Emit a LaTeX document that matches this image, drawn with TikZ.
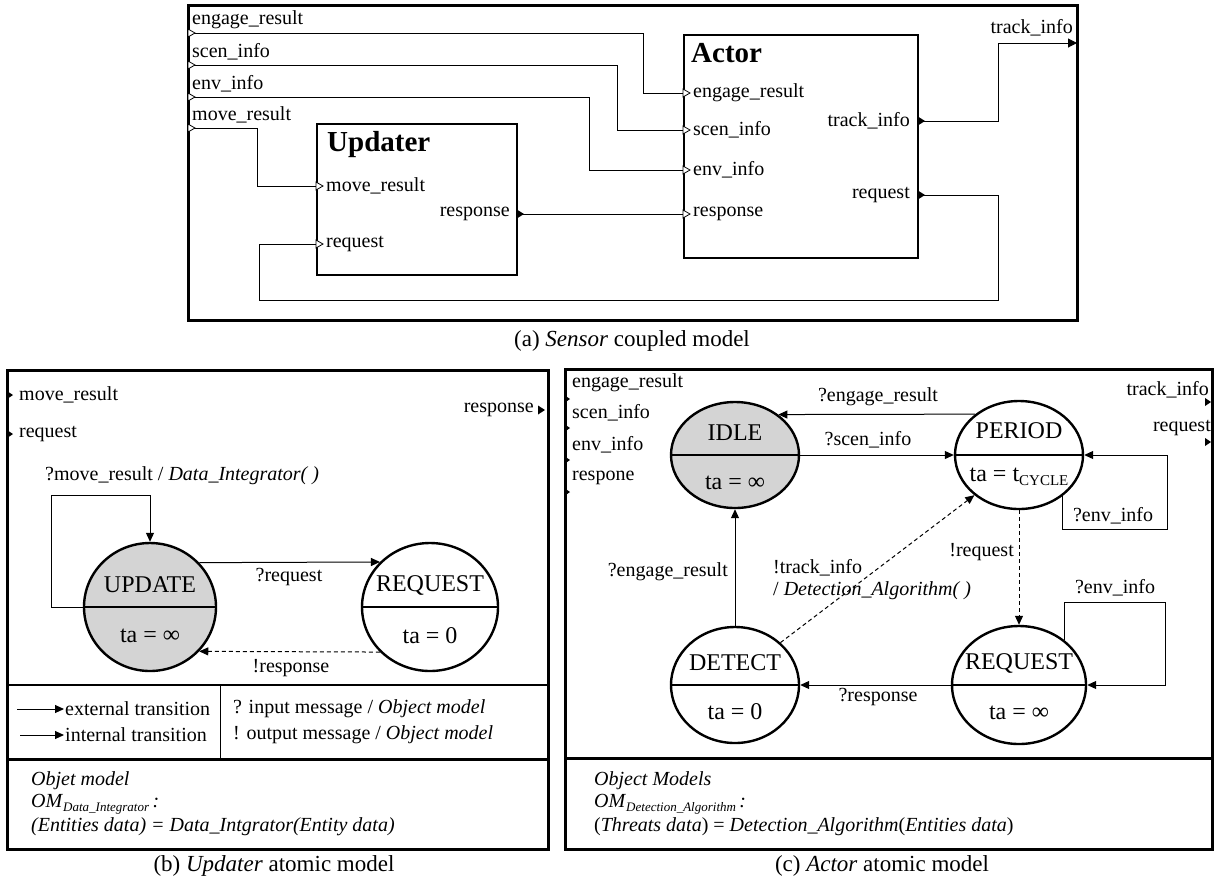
\documentclass[tikz,border=0pt]{standalone}
\usepackage{fontspec}
\setmainfont{Liberation Serif}
\usepackage{tikz}
\usetikzlibrary{shapes.geometric}
\usetikzlibrary{arrows.meta}

\newcommand{\inport}[1]{\draw[line width=0.8pt,fill=white] (#1) ++(0,-4) -- ++(7,4) -- ++(-7,4) -- cycle;}
\newcommand{\outport}[2][8]{\fill (#2) ++(0,-#1/2-1) -- ++(#1,#1/2+1) -- ++(-#1,#1/2+1) -- cycle;}

\begin{document}
\begin{tikzpicture}[x=1pt,y=-1pt,
  every node/.style={font=\fontsize{20}{22}\selectfont,inner sep=1pt},
  panel/.style={draw,line width=3pt},
  block/.style={draw,line width=2pt,anchor=north west},
  wire/.style={line width=1pt},
  exttrans/.style={line width=1pt,-{Triangle[length=9pt,width=8pt]}},
  inttrans/.style={exttrans,dash pattern=on 4pt off 3pt},
  stnode/.style={ellipse,draw,line width=2.4pt,inner sep=0pt},
  title/.style={font=\fontsize{29}{30}\selectfont\bfseries},
  sname/.style={font=\fontsize{24}{25}\selectfont},
  caption/.style={font=\fontsize{23}{25}\selectfont}]
  \useasboundingbox (0,0) rectangle (1214,879);

  % (a) Sensor coupled model
  \draw[panel] (188,5) rectangle (1077,320);
  \node[block,minimum width=200pt,minimum height=151pt] (upd) at (316,123) {};
  \node[block,minimum width=234pt,minimum height=223pt] (act) at (683,34) {};
  \node[title,anchor=west] at (326,145) {Updater};
  \node[title,anchor=west] at (690,53) {Actor};
  \foreach \y/\n/\t in {33/eng/engage\_result,65/scn/scen\_info,97/env/env\_info,128/mov/move\_result}{
    \coordinate (s-\n) at (188,\y);
    \node[anchor=west] at (191,\y-13) {\t};
  }
  \foreach \y/\n/\t in {93/eng/engage\_result,130/scn/scen\_info,170/env/env\_info,214/rsp/response}{
    \coordinate (a-\n) at (683,\y);
    \node[anchor=west] at (692,\y) {\t};
  }
  \coordinate (u-mov) at (316,186);
  \coordinate (u-req) at (316,244);
  \coordinate (u-rsp) at (516,214);
  \coordinate (a-trk) at (917,121);
  \coordinate (a-req) at (917,195);
  \coordinate (s-trk) at (1077,43);
  \draw[wire] (s-eng) -| (643,93) -- (a-eng);
  \draw[wire] (s-scn) -| (617,130) -- (a-scn);
  \draw[wire] (s-env) -| (589,170) -- (a-env);
  \draw[wire] (s-mov) -| (257,186) -- (u-mov);
  \draw[wire] (u-rsp) -- (a-rsp);
  \draw[wire,-{Triangle[length=9pt,width=9pt]}] (a-trk) -| (998,43) -- (s-trk);
  \draw[wire] (a-req) -| (998,300) -| (259,244) -- (u-req);
  \foreach \p in {s-eng,s-scn,s-env,s-mov,a-eng,a-scn,a-env,a-rsp,u-mov,u-req}{\inport{\p}}
  \foreach \p in {u-rsp,a-trk,a-req}{\outport{\p}}
  \node[anchor=west] at (325,186) {move\_result};
  \node[anchor=west] at (325,244) {request};
  \node[anchor=east] at (511,214) {response};
  \node[anchor=east] at (911,121) {track\_info};
  \node[anchor=east] at (911,195) {request};
  \node[anchor=east] at (1074,28) {track\_info};
  \node[caption] at (632,341) {(a) \textit{Sensor} coupled model};

  % (b) Updater atomic model
  \draw[panel] (7,370) rectangle (548,849);
  \draw[line width=1.5pt] (7,685) -- (548,685);
  \draw[panel] (7,759) -- (548,759);
  \draw[line width=1pt] (220,685) -- (220,759);
  \outport[6]{7,395}
  \outport[6]{7,434}
  \outport[7]{538,410}
  \node[anchor=west] at (18,395) {move\_result};
  \node[anchor=west] at (18,434) {request};
  \node[anchor=east] at (535,410) {response};
  \node[stnode,fill=black!17,minimum width=132pt,minimum height=128pt] (update) at (150,607) {};
  \node[stnode,minimum width=136pt,minimum height=128pt] (request) at (430,607) {};
  \draw[line width=1.2pt] (update.west) -- (update.east);
  \draw[line width=1.2pt] (request.west) -- (request.east);
  \node[sname] at (150,585) {UPDATE};
  \node[sname] at (150,636) {ta = ∞};
  \node[sname] at (430,585) {REQUEST};
  \node[sname] at (430,636) {ta = 0};
  \draw[exttrans] (update.west) -- ++(-31,0) |- (150,495) -- (update.north);
  \draw[exttrans] (update.42) -- (request.138);
  \draw[inttrans] (request.222) -- (update.318);
  \node[anchor=west] at (44,476) {?move\_result / \textit{Data\_Integrator( )}};
  \node at (289,577) {?request};
  \node at (291,668) {!response};
  \draw[exttrans] (17,709) -- (64,709);
  \draw[exttrans] (20,735) -- (64,735);
  \node[anchor=west] at (64,709) {external transition};
  \node[anchor=west] at (64,735) {internal transition};
  \node[anchor=west] at (232,709) {? input message / \textit{Object model}};
  \node[anchor=west] at (232,735) {! output message / \textit{Object model}};
  \node[anchor=west] at (30,781) {\textit{Objet model}};
  \node[anchor=west] at (30,804) {\textit{OM}\raisebox{-4pt}{\fontsize{13}{14}\selectfont\textit{Data\_Integrator}}\,\textit{:}};
  \node[anchor=west] at (30,827) {\textit{(Entities data) = Data\_Intgrator(Entity data)}};
  \node[caption] at (274,866) {(b) \textit{Updater} atomic model};

  % (c) Actor atomic model
  \draw[panel] (565,369) rectangle (1212,849);
  \draw[panel] (565,758) -- (1212,758);
  \foreach \y/\t/\ly in {399/engage\_result/383,428/scen\_info/413,460/env\_info/445,492/respone/478}{
    \outport[5]{565,\y}
    \node[anchor=west] at (571,\ly) {\t};
  }
  \outport[6]{1205,402}
  \outport[6]{1205,442}
  \node[anchor=east] at (1210,390) {track\_info};
  \node[anchor=east] at (1212,428) {request};
  \node[stnode,fill=black!17,minimum width=128pt,minimum height=106pt] (idle) at (735,455) {};
  \node[stnode,minimum width=128pt,minimum height=108pt] (period) at (1019,455) {};
  \node[stnode,minimum width=128pt,minimum height=116pt] (detect) at (735,685) {};
  \node[stnode,minimum width=134pt,minimum height=118pt] (reqc) at (1019,685) {};
  \foreach \s in {idle,period,detect,reqc}{\draw[line width=1.2pt] (\s.west) -- (\s.east);}
  \node[sname] at (735,433) {IDLE};
  \node[sname] at (735,483) {ta = ∞};
  \node[sname] at (1019,431) {PERIOD};
  \node[sname] at (1019,477) {ta = t\raisebox{-4pt}{\fontsize{15}{16}\selectfont CYCLE}};
  \node[sname] at (735,663) {DETECT};
  \node[sname] at (735,712) {ta = 0};
  \node[sname] at (1019,663) {REQUEST};
  \node[sname] at (1019,713) {ta = ∞};
  \draw[exttrans] (period.137) -- (idle.43);
  \draw[exttrans] (idle.east) -- (period.west);
  \draw[exttrans] (period.-43) |- (1167,529) |- (period.east);
  \draw[inttrans] (period.south) -- (reqc.north);
  \draw[exttrans] (reqc.45) |- (1165,602) |- (reqc.east);
  \draw[exttrans] (reqc.west) -- (detect.east);
  \draw[exttrans] (detect.north) -- (idle.south);
  \draw[inttrans] (detect.43) -- (period.222);
  \node at (878,397) {?engage\_result};
  \node at (868,440) {?scen\_info};
  \node at (1113,516) {?env\_info};
  \node[anchor=east] at (1015,552) {!request};
  \node at (1115,588) {?env\_info};
  \node at (878,697) {?response};
  \node[anchor=east] at (729,572) {?engage\_result};
  \node[anchor=west] at (772,568) {!track\_info};
  \node[anchor=west] at (772,591) {/ \textit{Detection\_Algorithm( )}};
  \node[anchor=west] at (593,781) {\textit{Object Models}};
  \node[anchor=west] at (593,804) {\textit{OM}\raisebox{-4pt}{\fontsize{13}{14}\selectfont\textit{Detection\_Algorithm}}\,\textit{:}};
  \node[anchor=west] at (593,827) {(\textit{Threats data}) = \textit{Detection\_Algorithm}(\textit{Entities data})};
  \node[caption] at (882,866) {(c) \textit{Actor} atomic model};
\end{tikzpicture}
\end{document}
